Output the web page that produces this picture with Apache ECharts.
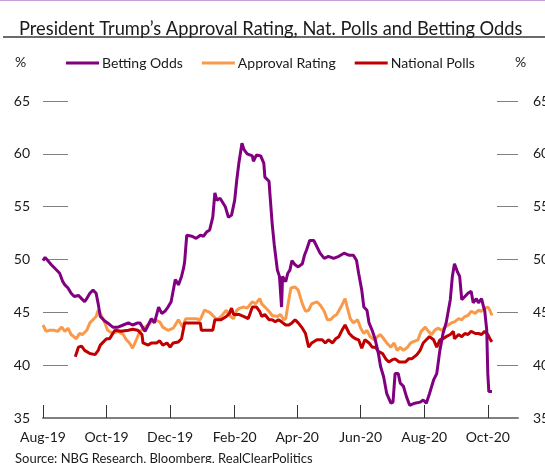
<!DOCTYPE html>
<html>
<head>
<meta charset="utf-8">
<script src="https://cdn.jsdelivr.net/npm/echarts@6/dist/echarts.min.js"></script>
<style>
  html, body { margin: 0; padding: 0; background: #fff; }
  #chart { width: 545px; height: 463px; }
</style>
</head>
<body>
<div id="chart"></div>
<script>
// Day 0 = 1 Aug 2019; each series is sampled as [day, percent]
const startDate = new Date(Date.UTC(2019, 7, 1));
const lastDay = 456;
const monthNames = ['Jan','Feb','Mar','Apr','May','Jun','Jul','Aug','Sep','Oct','Nov','Dec'];
const tickMonths = [7, 9, 11, 1, 3, 5]; // Aug, Oct, Dec, Feb, Apr, Jun

const bettingDays = [0,2,8,13,16,19,21,24,27,30,34,37,40,42,45,48,51,53,55,59,62,67,72,77,82,86,91,93,98,101,104,107,111,114,117,120,123,127,130,133,135,136,138,143,147,151,154,157,160,163,165,167,170,175,178,181,184,186,188,191,193,196,201,202,205,209,210,212,213,217,218,220,222,225,227,229,230,233,235,237,239,242,245,249,251,253,256,260,263,266,270,274,279,284,289,294,298,301,303,306,308,311,313,316,319,322,324,327,330,334,336,338,341,343,346,349,352,357,362,365,368,371,375,378,381,384,387,391,393,395,398,400,402,405,408,411,413,416,418,421,423,424,426,427,428,431];
const bettingOdds = [49.9,50.2,49.5,49.0,48.7,47.9,47.6,47.3,46.8,46.5,46.6,46.3,46.0,46.3,46.8,47.1,46.8,45.8,44.6,44.2,44.0,43.6,43.6,43.8,44.0,43.8,44.0,44.0,43.2,43.8,44.4,44.0,45.5,44.9,45.1,45.5,46.0,48.1,47.6,48.4,49.2,49.8,52.3,52.2,52.0,52.3,52.2,52.6,52.8,54.0,56.3,55.6,55.8,55.0,54.0,54.2,55.6,57.5,59.1,61.0,60.4,60.0,59.8,59.3,59.9,59.8,59.9,59.1,57.8,57.4,56.0,53.4,51.4,49.0,48.4,45.5,48.4,47.9,48.7,49.0,49.9,49.5,49.3,49.6,50.4,50.9,51.8,51.8,51.2,50.6,50.1,50.3,50.1,50.3,50.6,50.4,50.4,49.9,48.7,47.1,45.5,45.2,44.0,43.3,42.4,41.1,39.9,38.9,37.3,36.4,36.5,39.2,39.2,38.3,38.0,37.0,36.2,36.4,36.5,36.7,36.4,37.3,38.6,39.2,41.4,43.0,44.0,46.2,48.4,49.6,48.8,48.4,46.2,46.5,46.8,47.0,45.9,46.3,45.9,46.3,45.5,45.2,43.3,39.2,37.5,37.5];

const approvalDays = [0,3,6,11,14,18,21,24,27,32,35,38,42,45,48,51,53,56,59,62,67,72,77,80,83,86,90,93,98,103,107,112,115,120,125,130,134,137,143,147,151,155,160,163,167,171,176,180,183,186,189,193,196,201,204,208,210,213,217,220,225,228,231,233,236,238,242,245,249,252,255,258,263,266,270,273,276,279,282,286,290,292,295,298,302,305,308,311,314,318,321,324,327,330,334,337,340,343,346,350,353,355,360,363,367,370,373,376,379,383,386,389,392,395,399,402,405,408,411,415,418,421,424,427,429,431];
const approvalRating = [43.8,43.2,43.3,43.3,43.2,43.6,43.2,43.5,42.9,42.5,43.0,42.9,43.3,44.0,44.3,44.6,45.2,44.7,44.1,43.3,43.0,43.2,42.9,42.4,42.1,41.6,42.5,43.2,43.6,44.0,44.3,44.1,43.6,43.3,43.5,44.3,43.6,44.4,44.4,44.4,44.3,45.2,45.0,44.7,44.3,44.6,45.2,44.6,44.4,45.2,45.4,45.5,45.4,46.0,45.8,46.3,45.8,45.5,45.1,44.7,44.6,44.8,44.3,44.4,46.2,47.3,47.4,47.1,45.8,45.1,45.2,45.8,46.0,45.7,45.1,44.3,44.3,44.6,44.8,45.5,46.3,45.5,44.4,44.0,44.3,43.5,43.0,43.3,42.7,42.4,42.7,42.9,42.5,42.1,41.7,42.1,41.4,41.7,41.4,41.7,42.1,42.2,42.4,43.2,43.6,43.2,42.9,43.3,43.5,43.3,43.6,43.8,44.0,44.1,44.4,44.3,44.6,44.7,45.1,44.9,45.2,45.1,45.4,45.5,45.2,44.7];

const pollDays = [31,34,37,40,45,50,53,55,58,61,64,67,69,75,82,86,91,95,96,101,104,109,112,115,119,122,125,130,133,136,141,147,151,152,159,163,165,171,176,179,181,183,188,193,197,201,205,208,210,213,217,220,223,226,229,233,236,239,242,245,249,252,255,258,263,268,271,274,278,281,284,287,290,294,297,300,303,306,309,313,316,319,322,326,329,332,335,338,342,345,348,351,354,359,362,365,368,371,375,378,381,384,387,391,394,395,399,402,405,408,411,415,418,421,424,427,429,431];
const nationalPolls = [40.8,41.7,41.8,41.4,41.1,41.0,41.4,41.9,42.2,42.5,42.5,43.0,43.3,43.2,43.3,43.4,43.3,42.9,42.1,41.9,42.1,42.1,42.3,41.9,42.1,41.7,42.1,42.2,42.5,44.0,44.0,44.0,44.0,43.3,43.3,43.3,44.3,44.3,44.6,44.9,45.4,44.8,44.8,44.6,44.4,45.5,45.5,45.1,44.6,44.8,44.3,44.3,44.1,44.3,44.1,43.8,43.8,44.0,44.3,44.0,43.5,43.0,41.7,42.1,42.4,42.4,42.1,42.4,42.1,42.5,42.7,43.3,43.8,43.0,42.7,42.5,42.4,41.6,42.4,42.1,41.7,41.7,41.3,41.1,40.6,40.3,40.5,40.6,40.3,40.3,40.3,40.6,40.6,41.0,41.4,42.1,42.4,42.7,42.4,41.7,42.4,42.5,42.7,42.9,43.2,42.5,42.9,42.7,43.0,42.9,43.2,43.0,43.0,42.9,43.2,42.9,42.5,42.2];

const yTicks = [35, 40, 45, 50, 55, 60, 65];

// One category per calendar day
const dayDates = [];
const dayLabels = [];
for (let i = 0; i <= lastDay; i++) {
  const d = new Date(startDate.getTime() + i * 86400000);
  dayDates.push(d);
  dayLabels.push(monthNames[d.getUTCMonth()] + '-' + String(d.getUTCFullYear()).slice(2));
}
const isMonthTick = (idx) => {
  const d = dayDates[idx];
  return d && d.getUTCDate() === 1 && tickMonths.indexOf(d.getUTCMonth()) >= 0;
};

const pairs = (days, vals) => days.map((d, i) => [d, vals[i]]);

const FONT = 'Lato, "Open Sans", sans-serif';
const TEXT = '#1a1a1a';
const AXIS = '#808080';

const chart = echarts.init(document.getElementById('chart'), null, { renderer: 'canvas' });

const yAxisBase = {
  type: 'value',
  min: yTicks[0],
  max: yTicks[yTicks.length - 1],
  interval: 5,
  axisLine: { show: false },
  splitLine: { show: false },
  axisLabel: { color: TEXT, fontSize: 14, fontFamily: FONT }
};

chart.setOption({
  animation: false,
  backgroundColor: '#fff',
  title: {
    text: 'President Trump’s Approval Rating, Nat. Polls and Betting Odds',
    left: 14,
    top: 15,
    textStyle: { color: TEXT, fontSize: 18.3, fontWeight: 'normal', fontFamily: FONT }
  },
  legend: {
    data: ['Betting Odds', 'Approval Rating', 'National Polls'],
    left: 61,
    top: 51,
    icon: 'rect',
    itemWidth: 33,
    itemHeight: 3,
    itemGap: 19,
    textStyle: { color: TEXT, fontSize: 14, fontFamily: FONT, padding: [0, 0, 0, -2] }
  },
  graphic: [
    { type: 'rect', shape: { x: 0, y: 0, width: 545, height: 1 }, style: { fill: '#c8a0d8' } },
    { type: 'rect', shape: { x: 3, y: 36, width: 542, height: 2 }, style: { fill: '#6b6b6b' } },
    { type: 'text', x: 15, y: 62, style: { text: '%', fill: TEXT, font: '14px ' + FONT, verticalAlign: 'middle' } },
    { type: 'text', x: 515, y: 62, style: { text: '%', fill: TEXT, font: '14px ' + FONT, verticalAlign: 'middle' } },
    { type: 'text', x: 15, y: 459, style: { text: 'Source: NBG Research, Bloomberg, RealClearPolitics', fill: TEXT, font: '13px ' + FONT, verticalAlign: 'middle' } }
  ],
  grid: { left: 43, right: 27, top: 101, bottom: 45, outerBoundsMode: 'none' },
  xAxis: {
    type: 'category',
    data: dayLabels,
    boundaryGap: false,
    axisLine: { lineStyle: { color: AXIS, width: 2 } },
    axisTick: {
      inside: true,
      length: 13,
      interval: (idx) => isMonthTick(idx),
      lineStyle: { color: '#333', width: 1 }
    },
    axisLabel: {
      interval: (idx) => isMonthTick(idx),
      color: TEXT, fontSize: 14, fontFamily: FONT, margin: 12
    },
    splitLine: { show: false }
  },
  yAxis: [
    Object.assign({}, yAxisBase, {
      position: 'left',
      axisTick: { show: true, inside: true, length: 25, lineStyle: { color: AXIS, width: 1 } },
      axisLabel: Object.assign({}, yAxisBase.axisLabel, { margin: 13 })
    }),
    Object.assign({}, yAxisBase, {
      position: 'right',
      axisTick: { show: true, inside: true, length: 21, lineStyle: { color: AXIS, width: 1 } },
      axisLabel: Object.assign({}, yAxisBase.axisLabel, { margin: 15 })
    })
  ],
  series: [
    {
      name: 'Approval Rating', type: 'line', data: pairs(approvalDays, approvalRating),
      showSymbol: false, symbol: 'none', lineStyle: { color: '#f9994a', width: 3 },
      itemStyle: { color: '#f9994a' }, z: 2
    },
    {
      name: 'National Polls', type: 'line', data: pairs(pollDays, nationalPolls),
      showSymbol: false, symbol: 'none', lineStyle: { color: '#c00000', width: 3 },
      itemStyle: { color: '#c00000' }, z: 3
    },
    {
      name: 'Betting Odds', type: 'line', data: pairs(bettingDays, bettingOdds),
      showSymbol: false, symbol: 'none', lineStyle: { color: '#800080', width: 3 },
      itemStyle: { color: '#800080' }, z: 4
    }
  ]
});
</script>
</body>
</html>
